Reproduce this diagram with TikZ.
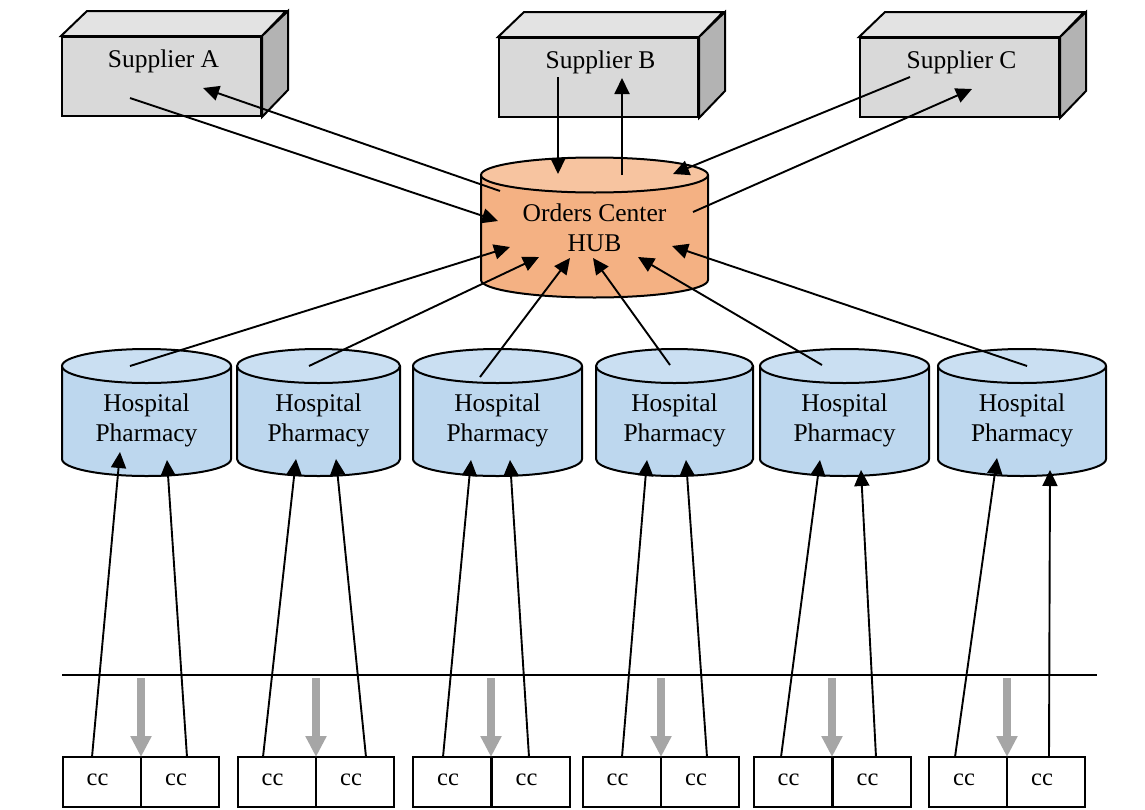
\documentclass[tikz,border=0pt]{standalone}
\usepackage{fontspec}
\setmainfont{Liberation Serif}
\usetikzlibrary{arrows.meta}
\definecolor{boxfront}{HTML}{D9D9D9}
\definecolor{boxtop}{HTML}{E3E3E3}
\definecolor{boxside}{HTML}{B3B3B3}
\definecolor{hubtop}{HTML}{F7C4A0}
\definecolor{hubbody}{HTML}{F4B183}
\definecolor{phtop}{HTML}{CADFF2}
\definecolor{phbody}{HTML}{BDD7EE}
\definecolor{feed}{HTML}{A6A6A6}
\begin{document}
\begin{tikzpicture}[x=1pt,y=-1pt,
  every node/.style={font=\fontsize{25.5}{30}\selectfont},
  outline/.style={draw=black,line width=2pt,line join=miter},
  link/.style={draw=black,line width=1.9pt,-{Triangle[length=16pt,width=15pt]}},
  plain/.style={draw=black,line width=1.9pt},
  supplier/.style={outline,fill=boxfront,minimum width=199pt,minimum height=79pt,inner sep=0pt},
  ccbox/.style={outline,minimum width=78pt,minimum height=50pt,inner sep=0pt},
  cctext/.style={font=\fontsize{24.5}{28}\selectfont},
  feedarrow/.style={draw=feed,line width=7.5pt,-{Triangle[length=21pt,width=20pt]}}
]
\useasboundingbox (0,0) rectangle (1145,809);

% suppliers: front face as node, top and side faces drawn around it
\foreach \s/\x/\y/\t in {sA/161.5/76.5/Supplier A, sB/598.5/77.5/Supplier B, sC/959.5/77.5/Supplier C} {
  \node[supplier, label={[yshift=15.5pt,xshift=2pt]center:\t}] (\s) at (\x,\y) {};
  \draw[outline,fill=boxtop] (\s.north west) -- ++(26,-25) -- ++(199,0) -- (\s.north east) -- cycle;
  \draw[outline,fill=boxside] (\s.north east) -- ++(26,-25) -- ++(0,79) -- (\s.south east) -- cycle;
}

% orders hub cylinder
\fill[hubbody] (481,175) -- (481,280) arc[start angle=180,end angle=360,x radius=113.5pt,y radius=17.5pt] -- (708,175) -- cycle;
\draw[outline] (481,175) -- (481,280) arc[start angle=180,end angle=360,x radius=113.5pt,y radius=17.5pt] -- (708,175);
\draw[outline,fill=hubtop] (594.5,175) ellipse[x radius=113.5pt,y radius=17.5pt];
\node[align=center] (hub) at (594.5,228) {Orders Center\\HUB};

% hospital pharmacy cylinders
\foreach \i/\l/\r in {1/62/231, 2/237/400, 3/413/582, 4/596/753, 5/760/929, 6/938/1106} {
  \pgfmathsetmacro\cx{(\l+\r)/2}
  \pgfmathsetmacro\rx{(\r-\l)/2}
  \fill[phbody] (\l,366) -- (\l,459) arc[start angle=180,end angle=360,x radius=\rx pt,y radius=17pt] -- (\r,366) -- cycle;
  \draw[outline] (\l,366) -- (\l,459) arc[start angle=180,end angle=360,x radius=\rx pt,y radius=17pt] -- (\r,366);
  \draw[outline,fill=phtop] (\cx,366) ellipse[x radius=\rx pt,y radius=17pt];
  \node[align=center] (ph\i) at (\cx,420) {Hospital\\Pharmacy};
}

% cost-centre boxes
\foreach \i/\a/\b/\c in {1/62/141/219, 2/237/316/394, 3/413/491/570, 4/582/661/739, 5/753/832/911, 6/929/1007/1085} {
  \pgfmathsetmacro\ml{(\a+\b)/2}
  \pgfmathsetmacro\mr{(\b+\c)/2}
  \node[ccbox, label={[cctext,xshift=-4pt,yshift=2.5pt]center:cc}] (cc\i L) at (\ml,782) {};
  \node[ccbox, label={[cctext,xshift=-4pt,yshift=2.5pt]center:cc}] (cc\i R) at (\mr,782) {};
  \coordinate (bus\i) at (\b,678);
  \coordinate (feed\i) at (\b,757);
  \draw[feedarrow] (bus\i) -- (feed\i);
}

% distribution line
\coordinate (busL) at (62,675);
\coordinate (busR) at (1097,675);
\draw[plain] (busL) -- (busR);

% supplier <-> hub links
\coordinate (aOut) at (130,98);   \coordinate (hubInA) at (498,221);
\coordinate (hubOutA) at (500,191); \coordinate (aIn) at (203,88);
\coordinate (bOut) at (558,77);   \coordinate (hubInB) at (558,174);
\coordinate (hubOutB) at (622,175); \coordinate (bIn) at (622,78);
\coordinate (cOut) at (910,77);   \coordinate (hubInC) at (673,174);
\coordinate (hubOutC) at (693,212); \coordinate (cIn) at (972,89);
\draw[link] (aOut) -- (hubInA);
\draw[link] (hubOutA) -- (aIn);
\draw[link] (bOut) -- (hubInB);
\draw[link] (hubOutB) -- (bIn);
\draw[link] (cOut) -- (hubInC);
\draw[link] (hubOutC) -- (cIn);

% pharmacy -> hub links
\foreach \i/\px/\py/\hx/\hy in {1/130/366/510/247, 2/309/366/539/257, 3/480/377/570/258, 4/670/365/593/258, 5/822/365/638/257, 6/1027/366/672/246} {
  \coordinate (phOut\i) at (\px,\py);
  \coordinate (hubIn\i) at (\hx,\hy);
  \draw[link] (phOut\i) -- (hubIn\i);
}

% cost centre -> pharmacy links
\foreach \i/\ax/\atx/\aty/\bx/\btx/\bty in {1/92/120/452/187/167/460, 2/263/296/459/366/336/459, 3/443/471/460/529/510/460, 4/622/647/460/707/686/460, 5/781/820/460/876/861/470, 6/955/997/458/1049/1050/470} {
  \coordinate (ccOutL\i) at (\ax,757);
  \coordinate (phInL\i) at (\atx,\aty);
  \coordinate (ccOutR\i) at (\bx,757);
  \coordinate (phInR\i) at (\btx,\bty);
  \draw[link] (ccOutL\i) -- (phInL\i);
  \draw[link] (ccOutR\i) -- (phInR\i);
}
\end{tikzpicture}
\end{document}
